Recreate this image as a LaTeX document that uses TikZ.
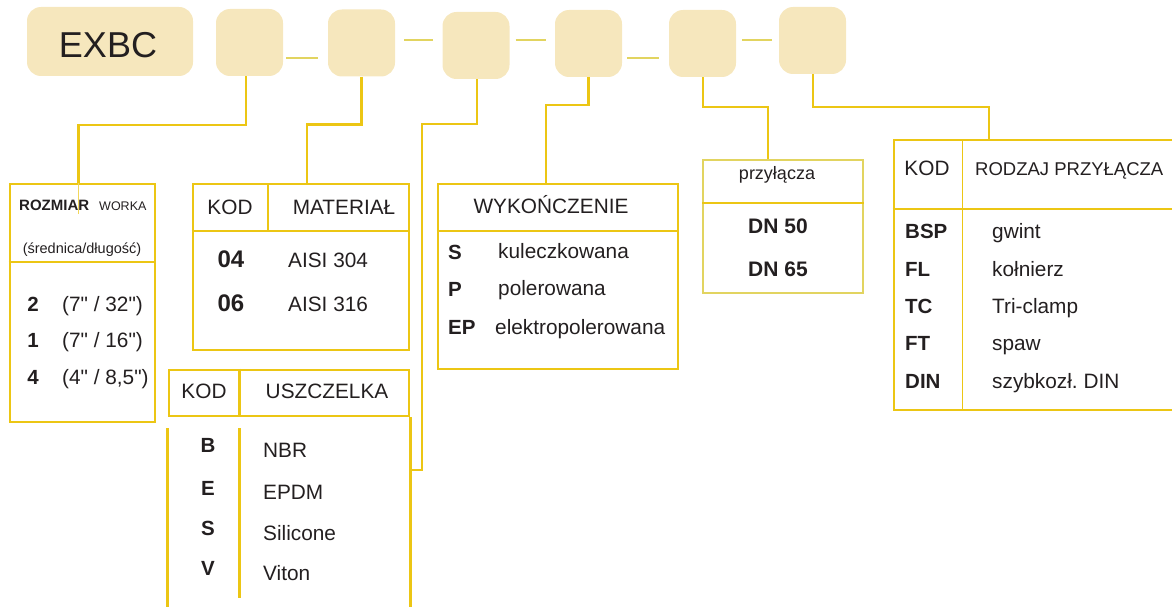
\documentclass[tikz,border=0pt]{standalone}
\usepackage{fontspec}
\setmainfont{Liberation Sans}
\newfontfamily\inchfont{Liberation Sans}[Ligatures=TeXOff]
\usetikzlibrary{positioning}
\definecolor{beige}{RGB}{246,231,189}
\definecolor{gold}{RGB}{236,198,20}
\definecolor{pale}{RGB}{226,212,96}
\definecolor{ink}{RGB}{35,31,32}
\newcommand{\inch}{{\inchfont"}}
\frenchspacing

\begin{document}
\begin{tikzpicture}[x=1pt,y=-1pt,
  slot/.style={fill=beige,rounded corners=14pt,minimum width=67pt,minimum height=67pt,inner sep=0},
  tabframe/.style={draw=gold,line width=2.6pt,inner sep=0},
  tabline/.style={draw=gold,line width=2.6pt},
  conn/.style={draw=gold,line width=2.4pt},
  dashlink/.style={draw=pale,line width=2pt},
  txt/.style={inner sep=0,text=ink,anchor=base,font=\fontsize{#1}{#1}\selectfont},
  txt/.default=20.8,
  kod/.style={inner sep=0,text=ink,anchor=base,font=\fontsize{#1}{#1}\selectfont\bfseries},
  kod/.default=20.5]
  \useasboundingbox (0,0) rectangle (1172,607);
  % ---------- code slots
  \node[slot,minimum width=166pt,minimum height=69pt] (exbc) at (110,41.5) {};
  \node[txt=36] at (108,58) {EXBC};
  \node[slot] (b1) at (249.5,42.5) {};
  \node[slot] (b2) at (361.5,43) {};
  \node[slot] (b3) at (476,45.5) {};
  \node[slot] (b4) at (588.5,43.5) {};
  \node[slot] (b5) at (702.5,43.5) {};
  \node[slot] (b6) at (812.5,40.5) {};
  \draw[dashlink] ([shift={(3,15.5)}]b1.east) -- ([shift={(-10,15)}]b2.west);
  \draw[dashlink] ([shift={(9,-3)}]b2.east) -- ([shift={(-9,-5.5)}]b3.west);
  \draw[dashlink] ([shift={(6,-5.5)}]b3.east) -- ([shift={(-9,-3.5)}]b4.west);
  \draw[dashlink] ([shift={(5,14.5)}]b4.east) -- ([shift={(-10,14.5)}]b5.west);
  \draw[dashlink] ([shift={(6,-3.5)}]b5.east) -- ([shift={(-7,-0.5)}]b6.west);

  % ---------- rozmiar worka
  \node[tabframe,minimum width=145pt,minimum height=238pt] (trz) at (82.5,303) {};
  \draw[tabline] (trz.west |- 0,262) -- (trz.east |- 0,262);
  \draw[gold!70,line width=0.8pt] ([xshift=-4pt]trz.north) -- ++(0,31);
  \node[kod=15,anchor=base west] at (19,210) {ROZMIAR};
  \node[txt=12.5,anchor=base west] at (99,210) {WORKA};
  \node[txt=14.5] at (82,253) {(średnica/długość)};
  \node[kod] at (33,311) {2};
  \node[kod] at (33,347) {1};
  \node[kod] at (33,384) {4};
  \node[txt,anchor=base west] at (62,311) {(7\inch{} / 32\inch)};
  \node[txt,anchor=base west] at (62,347) {(7\inch{} / 16\inch)};
  \node[txt,anchor=base west] at (62,384) {(4\inch{} / 8,5\inch)};

  % ---------- material
  \node[tabframe,minimum width=216pt,minimum height=166pt] (tmat) at (301,267) {};
  \draw[tabline] (tmat.west |- 0,231) -- (tmat.east |- 0,231);
  \draw[tabline] (268,184) -- (268,231);
  \node[txt] at (230,214) {KOD};
  \node[txt] at (344,214) {MATERIAŁ};
  \node[kod=24] at (231,267) {04};
  \node[kod=24] at (231,311) {06};
  \node[txt,anchor=base west] at (288,267) {AISI 304};
  \node[txt,anchor=base west] at (288,311) {AISI 316};

  % ---------- uszczelka
  \node[tabframe,minimum width=240pt,minimum height=46pt] (tusz) at (289,393) {};
  \draw[tabline] ([xshift=72pt]tusz.north west) -- ([xshift=72pt]tusz.south west);
  \draw[tabline] ([yshift=-11pt]tusz.south west) -- ++(0,185);
  \draw[tabline] ([xshift=72pt,yshift=-11pt]tusz.south west) -- ++(0,170);
  \draw[tabline] (tusz.south east) -- ++(0,196);
  \coordinate (k3) at (409,470);
  \node[txt] at (204,398) {KOD};
  \node[txt] at (327,398) {USZCZELKA};
  \node[kod] at (208,452) {B};
  \node[kod] at (208,495) {E};
  \node[kod] at (208,535) {S};
  \node[kod] at (208,575) {V};
  \node[txt,anchor=base west] at (263,457) {NBR};
  \node[txt,anchor=base west] at (263,499) {EPDM};
  \node[txt,anchor=base west] at (263,540) {Silicone};
  \node[txt,anchor=base west] at (263,580) {Viton};

  % ---------- wykonczenie
  \node[tabframe,minimum width=240pt,minimum height=185pt] (twyk) at (558,276.5) {};
  \draw[tabline] (twyk.west |- 0,231) -- (twyk.east |- 0,231);
  \node[txt] at (551,213) {WYKOŃCZENIE};
  \node[kod,anchor=base west] at (448,259) {S};
  \node[kod,anchor=base west] at (448,296) {P};
  \node[kod,anchor=base west] at (448,334) {EP};
  \node[txt,anchor=base west] at (498,258) {kuleczkowana};
  \node[txt,anchor=base west] at (498,295) {polerowana};
  \node[txt,anchor=base west] at (495,334) {elektropolerowana};

  % ---------- przylacza
  \node[draw=pale,line width=1.6pt,inner sep=0,minimum width=160pt,minimum height=133pt] (tprz) at (783,226.5) {};
  \draw[tabline] (tprz.west |- 0,203) -- (tprz.east |- 0,203);
  \node[txt=18] at (777,179) {przyłącza};
  \node[kod=21] at (778,233) {DN 50};
  \node[kod=21] at (778,276) {DN 65};

  % ---------- rodzaj przylacza
  \node[tabframe,minimum width=300pt,minimum height=270pt] (trod) at (1044,275) {};
  \draw[tabline] (trod.west |- 0,209) -- (trod.east |- 0,209);
  \draw[gold,line width=1pt] (962,140) -- (962,410);
  \coordinate (k6) at (989,140);
  \node[txt] at (927,175) {KOD};
  \node[txt=18.5,anchor=base west] at (975,175) {RODZAJ PRZYŁĄCZA};
  \node[kod,anchor=base west] at (905,238) {BSP};
  \node[kod,anchor=base west] at (905,276) {FL};
  \node[kod,anchor=base west] at (905,313) {TC};
  \node[kod,anchor=base west] at (905,350) {FT};
  \node[kod,anchor=base west] at (905,388) {DIN};
  \node[txt,anchor=base west] at (992,238) {gwint};
  \node[txt,anchor=base west] at (992,276) {kołnierz};
  \node[txt,anchor=base west] at (992,313) {Tri-clamp};
  \node[txt,anchor=base west] at (992,350) {spaw};
  \node[txt,anchor=base west] at (992,388) {szybkozł. DIN};

  % ---------- connectors
  \draw[conn] ([xshift=-3.5pt]b1.south) -- ++(0,49) -| ([xshift=-4pt]trz.north);
  \draw[conn] (b2.south) -- ++(0,48) -| ([xshift=6pt]tmat.north);
  \draw[conn] ([xshift=1pt]b3.south) -- ++(0,45) -| ([xshift=13pt]k3) -- (k3);
  \draw[conn] (b4.south) -- ++(0,28) -| ([xshift=-12pt]twyk.north);
  \draw[conn,line width=2pt] (b5.south) -- ++(0,30) -| ([xshift=-15pt]tprz.north);
  \draw[conn,line width=2pt] (b6.south) -- ++(0,33) -| (k6);
\end{tikzpicture}
\end{document}
